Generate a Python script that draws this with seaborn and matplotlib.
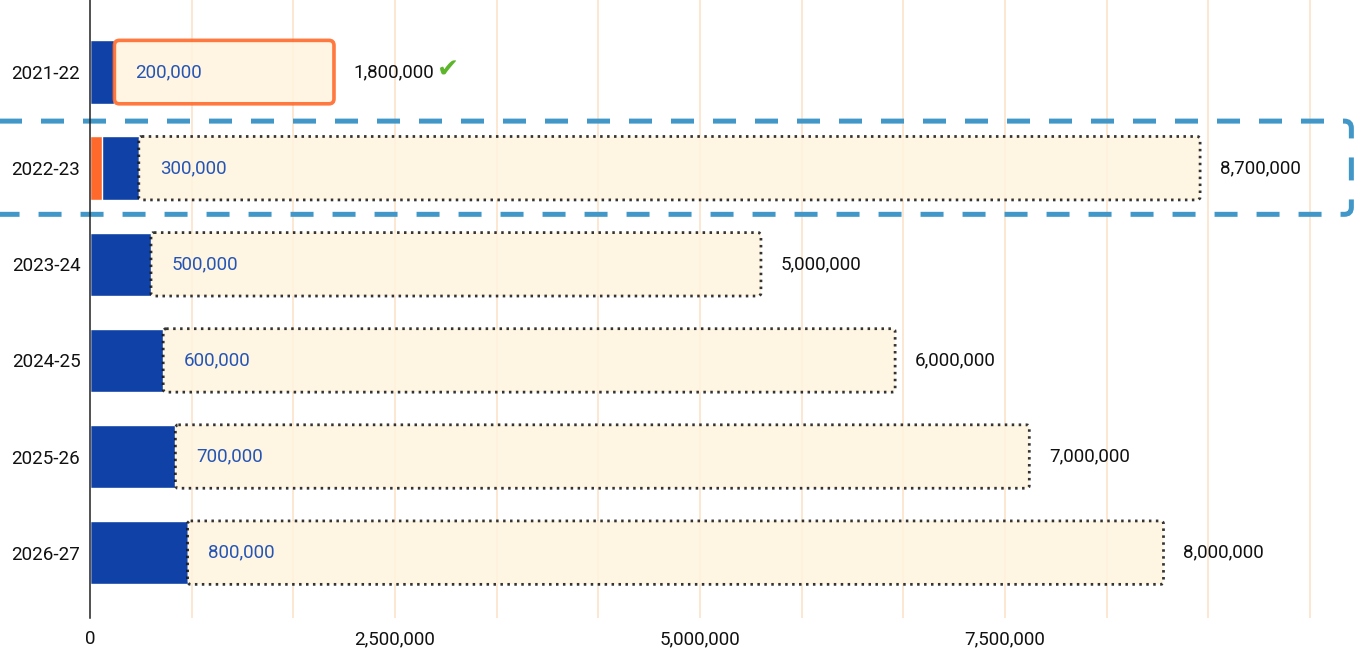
import matplotlib
matplotlib.use('Agg')
import matplotlib.pyplot as plt
import seaborn as sns
from matplotlib.patches import FancyBboxPatch
from matplotlib.ticker import FuncFormatter

seasons = ['2021-22', '2022-23', '2023-24', '2024-25', '2025-26', '2026-27']
orange_part = [0, 100000, 0, 0, 0, 0]
blue_part = [200000, 300000, 500000, 600000, 700000, 800000]
planned = [1800000, 8700000, 5000000, 6000000, 7000000, 8000000]
achieved = [True, False, False, False, False, False]
highlight_row = 1

BLUE = '#0f41a6'
ORANGE = '#ff6a2c'
BEIGE = '#fff4df'
GRID = '#fbe3c9'

sns.set_style('white')
plt.rcParams['font.family'] = ['Roboto', 'DejaVu Sans']

fig = plt.figure(figsize=(13.66, 6.5), dpi=100)
ax = fig.add_axes([90 / 1366, 32 / 650, 1276 / 1366, 618 / 650])

XMAX = 10.46e6
YLIM = (5.68, -0.75)
# ratio of y data units per pixel to x data units per pixel, for round corners
aspect = ((YLIM[0] - YLIM[1]) / 618) / (XMAX / 1276)
px = XMAX / 1276

starts = [o + b for o, b in zip(orange_part, blue_part)]

sns.barplot(x=starts, y=seasons, orient='h', color=BLUE, width=0.66,
            saturation=1, ax=ax, zorder=3)
sns.barplot(x=orange_part, y=seasons, orient='h', color=ORANGE, width=0.66,
            saturation=1, ax=ax, zorder=4)

for i, (s, p) in enumerate(zip(starts, planned)):
    if achieved[i]:
        ax.add_patch(FancyBboxPatch(
            (s, i - 0.33), p, 0.66,
            boxstyle=f'round,pad=0,rounding_size={5 * px}',
            mutation_aspect=aspect, facecolor=BEIGE, alpha=0.9,
            edgecolor=ORANGE, linewidth=2.6, zorder=5))
    else:
        ax.add_patch(FancyBboxPatch(
            (s, i - 0.33), p, 0.66,
            boxstyle=f'round,pad=0,rounding_size={3 * px}',
            mutation_aspect=aspect, facecolor=BEIGE, alpha=0.85,
            edgecolor='#111111', linewidth=2.0, linestyle=(0, (0.9, 1.6)),
            zorder=5))
    ax.annotate(f'{blue_part[i]:,}', xy=(s, i), xytext=(15, 0),
                textcoords='offset points', va='center', ha='left',
                color='#2455b5', fontsize=13.5, zorder=6)
    txt = ax.annotate(f'{p:,}', xy=(s + p, i), xytext=(14, 0),
                      textcoords='offset points', va='center', ha='left',
                      color='#111111', fontsize=13.5, zorder=6)
    if achieved[i]:
        ax.annotate('\u2714', xy=(1, 0.5), xycoords=txt, xytext=(2, 1),
                    textcoords='offset points', va='center', ha='left',
                    color='#5cb52a', fontsize=19, family='DejaVu Sans')

# dashed highlight box around one season
ax.add_patch(FancyBboxPatch(
    (-1.0e6, highlight_row - 0.49), 11.34e6, 0.97,
    boxstyle=f'round,pad=0,rounding_size={7 * px}', mutation_aspect=aspect,
    fill=False, edgecolor='#4198c8', linewidth=3.6,
    linestyle=(0, (4.6, 3.8)), clip_on=False, zorder=7))

ax.set_xlim(0, XMAX)
ax.set_ylim(*YLIM)
ax.set_xticks([0, 2.5e6, 5e6, 7.5e6])
ax.xaxis.set_major_formatter(FuncFormatter(lambda v, _: f'{int(v):,}'))
ax.grid(False)
for k in range(1, 13):
    ax.axvline(k * 2.5e6 / 3, color=GRID, linewidth=1.2, zorder=0)

ax.set_xlabel('')
ax.set_ylabel('')
for side in ['top', 'right', 'bottom']:
    ax.spines[side].set_visible(False)
ax.spines['left'].set_color('#222222')
ax.spines['left'].set_linewidth(1.1)
ax.spines['left'].set_zorder(8)
ax.tick_params(axis='both', which='both', length=0, labelsize=13.5,
               colors='#111111')
ax.tick_params(axis='x', pad=9)
ax.tick_params(axis='y', pad=7)

fig.savefig('out.png', dpi=100)
